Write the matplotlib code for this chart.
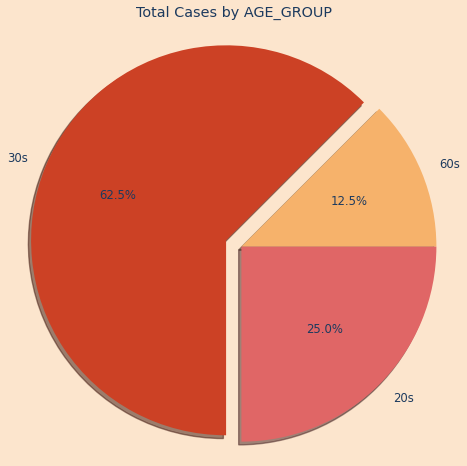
import matplotlib
matplotlib.use("Agg")
import matplotlib.pyplot as plt

labels = ["60s", "30s", "20s"]
values = [1, 5, 2]
explode = [0, 0.085, 0]
colors = ["#f6b26b", "#cc4125", "#e06666"]
title = "Total Cases by AGE_GROUP"

bg = "#fce5cd"
txt = "#1c3a5e"

fig = plt.figure(figsize=(4.67, 4.66), dpi=100, facecolor=bg)
ax = fig.add_axes([0, 0, 1, 1])
ax.set_facecolor(bg)
ax.pie(values, labels=labels, explode=explode, colors=colors, autopct="%1.1f%%",
       shadow={"ox": -0.01, "oy": -0.012}, startangle=0,
       textprops={"color": txt, "fontsize": 8.4})
ax.set_aspect("auto")
ax.set_xlim(-1.238, 1.157)
ax.set_ylim(-1.125, 1.265)
ax.axis("off")
fig.text(0.5, 1 - 13 / 466, title, ha="center", va="center", color=txt, fontsize=10.4)
fig.savefig("out.png", facecolor=bg)
